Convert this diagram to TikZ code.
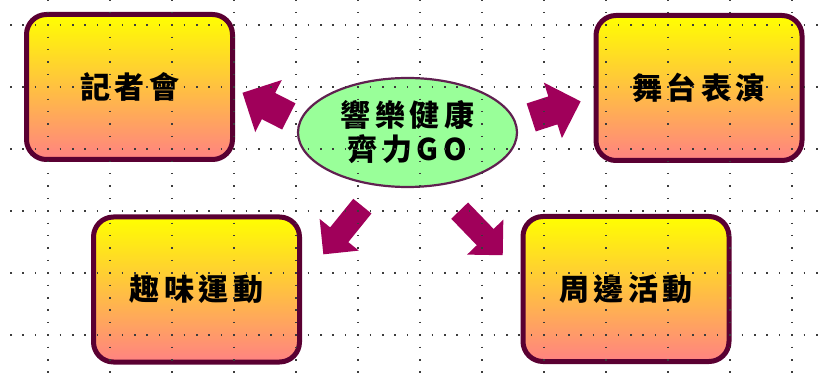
\documentclass[tikz,border=0pt]{standalone}
\usepackage{fontspec}
\newfontfamily\cjk{Noto Sans CJK TC}[LetterSpace=15]
\usepackage{tikz}
\usetikzlibrary{shapes}
\definecolor{stageline}{RGB}{90,0,50}
\definecolor{stagetop}{RGB}{255,255,0}
\definecolor{stagemid}{RGB}{255,185,95}
\definecolor{stagebottom}{RGB}{255,130,130}
\definecolor{hubfill}{RGB}{153,255,153}
\definecolor{hubline}{RGB}{96,32,80}
\definecolor{arrowfill}{RGB}{160,0,90}
\definecolor{griddot}{RGB}{60,60,60}
\tikzstyle{stage} = [
  rectangle, rounded corners = 20pt,
  minimum width = 206pt, minimum height = 145pt,
  draw = stageline, line width = 5pt,
  top color = stagetop, middle color = stagemid, bottom color = stagebottom,
  text centered, font = \cjk\bfseries\fontsize{30pt}{34pt}\selectfont
]
\tikzstyle{hub} = [ellipse, minimum width = 219pt, minimum height = 109pt,
  inner sep = 0pt, fill = hubfill, draw = hubline, line width = 2.2pt,
  align = center, font = \cjk\bfseries\fontsize{30pt}{34pt}\selectfont]
\tikzstyle{bigarrow} = [single arrow, fill = arrowfill, anchor = tail,
  inner xsep = 0pt, inner ysep = 14.5pt, single arrow head extend = 14.5pt,
  minimum height = 52pt]
\tikzstyle{smallarrow} = [single arrow, fill = arrowfill, anchor = tail,
  inner xsep = 0pt, inner ysep = 11.5pt, single arrow head extend = 13.5pt,
  minimum height = 62pt]
\tikzstyle{griddots} = [griddot, line width = 1.5pt,
  dash pattern = on 1.5pt off 10.9pt]

\begin{document}
\begin{tikzpicture}[x = 1pt, y = -1pt]
    \useasboundingbox (0, 0) rectangle (824, 379);
    \node [stage] (press) at (129.5, 87) {記者會};
    \node [stage] (show) at (699, 88) {舞台表演};
    \node [stage] (sports) at (196.5, 289.5) {趣味運動};
    \node [stage] (fair) at (626, 289) {周邊活動};
    \node [hub] (hub) at (407.5, 132.5) {響樂健康\\齊力GO};
    \node [bigarrow, rotate = 153] (to-press) at (289, 116.5) {};
    \node [bigarrow, rotate = 18] (to-show) at (531, 117.5) {};
    \node [smallarrow, rotate = 231] (to-sports) at (362.5, 206) {};
    \node [smallarrow, rotate = -46] (to-fair) at (459.5, 210.5) {};
    \foreach \gx in {0, ..., 12}
      \draw [griddots] ({48 + 62 * \gx}, -0.6) -- ({48 + 62 * \gx}, 379);
    \foreach \gy in {0, ..., 5}
      \draw [griddots] (-2.4, {25 + 62 * \gy}) -- (824, {25 + 62 * \gy});
\end{tikzpicture}
\end{document}
